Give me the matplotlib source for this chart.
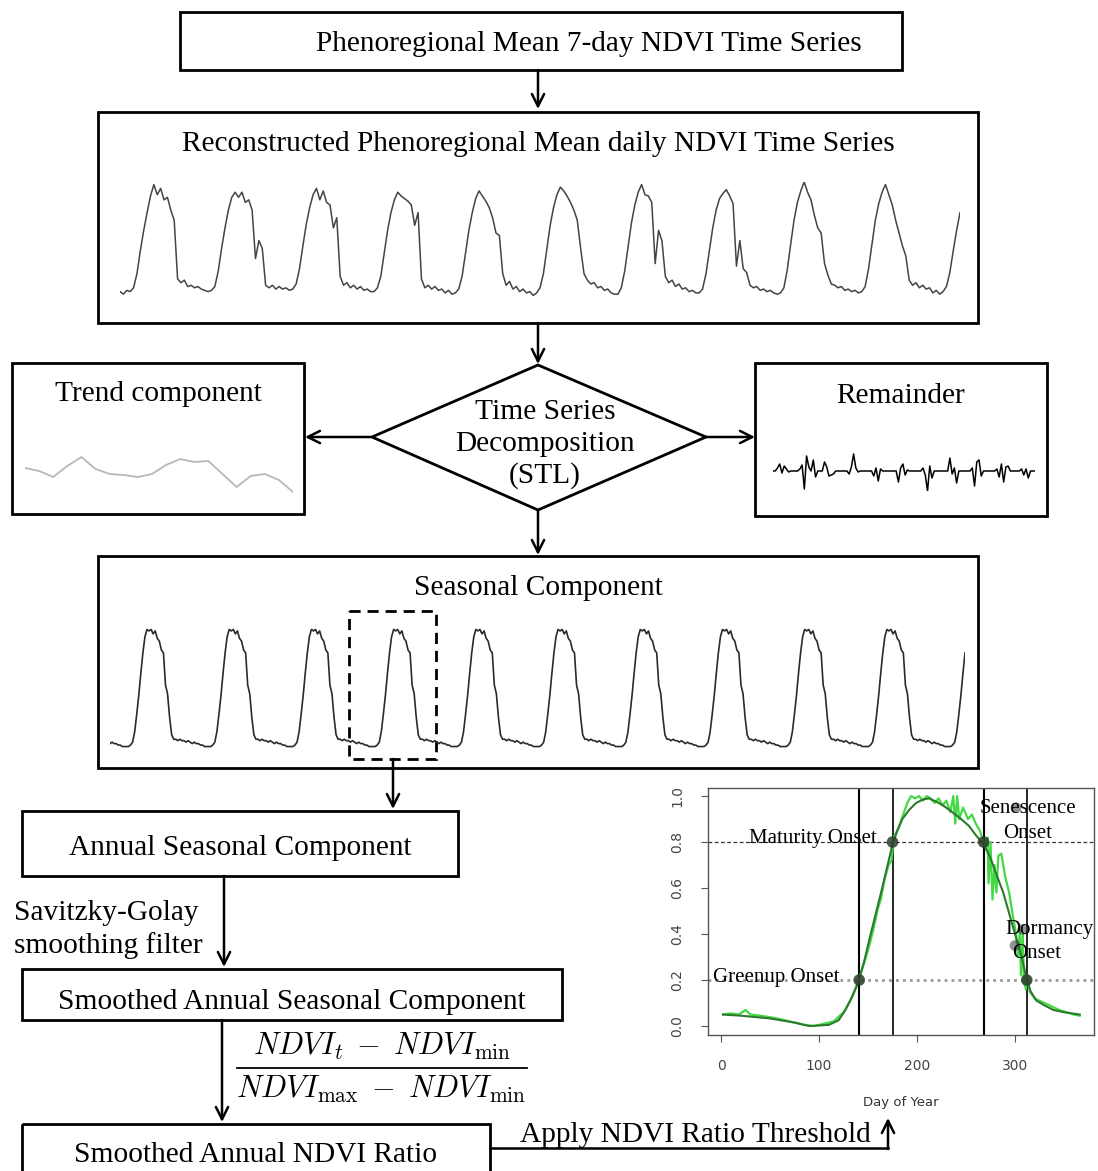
import matplotlib
matplotlib.use("Agg")
import matplotlib.pyplot as plt
from matplotlib.patches import Rectangle, Polygon
import numpy as np

plt.rcParams["mathtext.fontset"] = "cm"

W, H = 1098, 1171
SERIF = "Liberation Serif"

# ---- Reconstructed phenoregional mean NDVI (≈ 24 samples per year) ----
lead_in = [0.10, 0.08, 0.11]
year_01 = [0.10, 0.13, 0.24, 0.42, 0.58, 0.72, 0.85, 0.94, 0.86, 0.91, 0.82, 0.84,
           0.74, 0.66, 0.20, 0.17, 0.19, 0.14, 0.15, 0.13, 0.14, 0.12, 0.11, 0.10]
year_02 = [0.11, 0.14, 0.26, 0.44, 0.60, 0.74, 0.84, 0.88, 0.84, 0.88, 0.80, 0.82,
           0.74, 0.36, 0.50, 0.44, 0.15, 0.13, 0.15, 0.12, 0.14, 0.12, 0.13, 0.11]
year_03 = [0.12, 0.16, 0.28, 0.46, 0.63, 0.76, 0.86, 0.91, 0.82, 0.89, 0.80, 0.78,
           0.60, 0.68, 0.22, 0.15, 0.17, 0.13, 0.15, 0.12, 0.14, 0.11, 0.12, 0.10]
year_04 = [0.10, 0.13, 0.22, 0.40, 0.58, 0.72, 0.82, 0.88, 0.85, 0.83, 0.81, 0.78,
           0.62, 0.72, 0.20, 0.13, 0.15, 0.12, 0.14, 0.11, 0.12, 0.09, 0.11, 0.08]
year_05 = [0.09, 0.12, 0.22, 0.40, 0.58, 0.72, 0.83, 0.89, 0.85, 0.81, 0.76, 0.68,
           0.56, 0.54, 0.24, 0.15, 0.18, 0.12, 0.14, 0.10, 0.12, 0.09, 0.10, 0.07]
year_06 = [0.09, 0.13, 0.24, 0.43, 0.62, 0.76, 0.86, 0.92, 0.89, 0.85, 0.80, 0.74,
           0.66, 0.44, 0.24, 0.19, 0.16, 0.17, 0.13, 0.14, 0.11, 0.12, 0.09, 0.08]
year_07 = [0.08, 0.13, 0.26, 0.45, 0.64, 0.78, 0.88, 0.94, 0.86, 0.85, 0.80, 0.32,
           0.58, 0.50, 0.22, 0.17, 0.19, 0.14, 0.16, 0.12, 0.13, 0.10, 0.11, 0.09]
year_08 = [0.09, 0.12, 0.24, 0.42, 0.60, 0.74, 0.83, 0.87, 0.90, 0.85, 0.79, 0.30,
           0.50, 0.28, 0.25, 0.15, 0.13, 0.14, 0.11, 0.12, 0.10, 0.11, 0.09, 0.08]
year_09 = [0.09, 0.13, 0.27, 0.47, 0.66, 0.80, 0.89, 0.96, 0.88, 0.82, 0.70, 0.60,
           0.56, 0.32, 0.23, 0.16, 0.15, 0.13, 0.14, 0.11, 0.12, 0.10, 0.11, 0.09]
year_10 = [0.10, 0.14, 0.28, 0.47, 0.66, 0.79, 0.88, 0.94, 0.86, 0.78, 0.66, 0.56,
           0.46, 0.38, 0.19, 0.15, 0.17, 0.13, 0.15, 0.12, 0.13, 0.09, 0.11, 0.08]
lead_out = [0.10, 0.14, 0.25, 0.42, 0.58, 0.72]

# ---- STL components ----
trend_values = [0.32, 0.29, 0.23, 0.34, 0.43, 0.31, 0.26, 0.25, 0.23, 0.26,
                0.35, 0.41, 0.38, 0.39, 0.26, 0.13, 0.24, 0.26, 0.20, 0.08]

remainder_values = [
    0.00, 0.00, 0.15, 0.35, -0.10, 0.25, 0.10, -0.05, 0.00, 0.00, 0.00,
    0.00, 0.10, 0.30, -0.90, 0.75, 0.20, 0.00, 0.55, -0.30, 0.00, 0.00,
    0.00, 0.45, 0.20, -0.25, -0.20, -0.15, 0.00, 0.00, 0.00, 0.00, 0.00,
    0.00, -0.15, 0.20, 0.85, 0.15, -0.05, 0.00, 0.00, 0.00, 0.00, 0.00,
    0.00, -0.25, 0.15, -0.50, 0.10, 0.00, 0.00, 0.00, 0.00, 0.00, 0.00,
    0.00, -0.55, 0.15, 0.35, -0.20, 0.05, 0.00, 0.00, 0.00, 0.00, 0.00,
    0.00, 0.15, -0.20, -1.00, 0.25, -0.35, 0.00, 0.00, 0.00, 0.00, 0.00,
    0.00, 0.00, 0.65, -0.15, 0.15, -0.60, 0.00, 0.00, 0.00, 0.00, 0.00,
    0.00, 0.15, -0.75, 0.45, 0.55, -0.25, 0.00, 0.00, 0.00, 0.00, 0.00,
    0.00, 0.10, -0.30, 0.35, -0.55, 0.20, 0.25, 0.00, 0.00, 0.00, 0.00,
    0.00, 0.10, -0.20, 0.10, -0.35, 0.00, 0.00, 0.00]

# one annual cycle of the seasonal component (40 samples, trough to trough)
seasonal_profile = [0.10, 0.11, 0.13, 0.20, 0.32, 0.45, 0.60, 0.74, 0.85, 0.90,
                    0.89, 0.90, 0.87, 0.89, 0.84, 0.82, 0.76, 0.74, 0.52, 0.46,
                    0.30, 0.18, 0.15, 0.15, 0.14, 0.15, 0.14, 0.14, 0.13, 0.14,
                    0.13, 0.12, 0.13, 0.12, 0.12, 0.11, 0.11, 0.10, 0.10, 0.10]
seasonal_cycles = 10
seasonal_start, seasonal_end = 31, 8

# ---- Annual NDVI ratio with phenology thresholds ----
raw_doy = [2, 10, 18, 25, 30, 40, 55, 70, 85, 95, 105, 115, 125, 132, 138, 142, 148,
           152, 156, 160, 163, 167, 171, 174, 176, 181, 186, 190, 194, 198, 202, 206,
           210, 214, 218, 222, 226, 230, 234, 237, 239, 241, 243, 247, 252, 256, 260,
           264, 268, 270, 272, 273, 275, 277, 279, 281, 283, 286, 290, 294, 297, 299,
           301, 303, 305, 306, 308, 309, 311, 313, 315, 320, 330, 345, 360, 366]
raw_ratio = [0.05, 0.055, 0.05, 0.07, 0.05, 0.045, 0.035, 0.02, 0.005, 0.0, 0.01, 0.02,
             0.06, 0.11, 0.17, 0.22, 0.30, 0.36, 0.43, 0.51, 0.55, 0.64, 0.70, 0.72,
             0.82, 0.86, 0.92, 0.97, 1.0, 0.99, 1.0, 0.98, 1.0, 0.99, 0.97, 0.99, 0.96,
             0.98, 0.93, 1.0, 0.88, 1.0, 0.90, 0.95, 0.90, 0.92, 0.88, 0.85, 0.80, 0.78,
             0.82, 0.62, 0.80, 0.55, 0.70, 0.58, 0.74, 0.75, 0.65, 0.58, 0.50, 0.45,
             0.40, 0.30, 0.42, 0.22, 0.40, 0.20, 0.16, 0.22, 0.15, 0.12, 0.10, 0.07,
             0.05, 0.045]
smooth_doy = [2, 20, 50, 75, 90, 110, 120, 127, 134, 140, 146, 151, 158, 165, 170, 175,
              180, 185, 192, 199, 206, 212, 220, 228, 236, 245, 253, 260, 268, 275,
              281, 288, 294, 300, 305, 309, 312, 316, 322, 330, 339, 350, 366]
smooth_ratio = [0.05, 0.045, 0.033, 0.015, 0.0, 0.005, 0.025, 0.07, 0.13, 0.19, 0.28,
                0.37, 0.49, 0.61, 0.70, 0.79, 0.85, 0.90, 0.94, 0.97, 0.985, 0.99,
                0.975, 0.955, 0.93, 0.90, 0.87, 0.83, 0.79, 0.73, 0.66, 0.58, 0.49,
                0.40, 0.33, 0.26, 0.20, 0.15, 0.11, 0.09, 0.07, 0.06, 0.05]
phase_doy = [141, 175, 268, 312]
phase_ratio = [0.20, 0.80, 0.80, 0.20]
extra_doy = [301, 308, 300]
extra_ratio = [0.95, 0.42, 0.35]
thresholds = [0.8, 0.2]
x_ticks = [0, 100, 200, 300]
y_ticks = [0.0, 0.2, 0.4, 0.6, 0.8, 1.0]

# ------------------------------------------------------------------------
fig = plt.figure(figsize=(W / 100, H / 100), dpi=100)
canvas = fig.add_axes([0, 0, 1, 1])
canvas.set_xlim(0, W)
canvas.set_ylim(H, 0)
canvas.axis("off")


def px_axes(x0, y0, x1, y1):
    return fig.add_axes([x0 / W, 1 - y1 / H, (x1 - x0) / W, (y1 - y0) / H])


def box(x0, y0, x1, y1, lw=2.0):
    canvas.add_patch(Rectangle((x0, y0), x1 - x0, y1 - y0, fill=False,
                               ec="black", lw=lw, zorder=2))


def label(x, y, s, size=21.2, ha="center"):
    canvas.text(x, y + 3, s, family=SERIF, fontsize=size, ha=ha, va="center",
                color="black", zorder=3)


def arrow(x0, y0, x1, y1):
    canvas.annotate("", xy=(x1, y1), xytext=(x0, y0),
                    arrowprops=dict(arrowstyle="->", lw=1.8, color="black",
                                    mutation_scale=22, shrinkA=0, shrinkB=0))


def sparkline(ax, y, color, lw, ylim):
    ax.plot(np.arange(len(y)), y, color=color, lw=lw)
    ax.set_xlim(0, len(y) - 1)
    ax.set_ylim(*ylim)
    ax.axis("off")
    ax.patch.set_alpha(0)


# boxes and captions
box(180, 12, 902, 70)
label(589, 41, "Phenoregional Mean 7-day NDVI Time Series")
arrow(538, 70, 538, 109)

box(98, 112, 978, 323)
label(538, 141, "Reconstructed Phenoregional Mean daily NDVI Time Series")
arrow(538, 323, 538, 364)

canvas.add_patch(Polygon([(538, 365), (706, 437), (538, 510), (372, 437)],
                         closed=True, fill=False, ec="black", lw=2.0))
label(545, 409, "Time Series")
label(545, 441, "Decomposition")
label(545, 473, "(STL)")
arrow(372, 437, 305, 437)
arrow(706, 437, 755, 437)

box(12, 363, 304, 514)
label(158, 391, "Trend component")
box(755, 363, 1047, 516)
label(901, 393, "Remainder")

arrow(538, 510, 538, 555)
box(98, 556, 978, 768)
label(538, 585, "Seasonal Component")
canvas.add_patch(Rectangle((349, 611), 87, 148, fill=False, ec="black",
                           lw=2.0, ls=(0, (4, 2.5)), zorder=4))
arrow(393, 759, 393, 809)

box(22, 811, 458, 876)
label(240, 845, "Annual Seasonal Component")
arrow(224, 876, 224, 967)
label(14, 910, "Savitzky-Golay", ha="left")
label(14, 943, "smoothing filter", ha="left")

box(22, 969, 562, 1020)
label(292, 999, "Smoothed Annual Seasonal Component")
arrow(222, 1020, 222, 1122)

# NDVI ratio formula
canvas.text(382, 1046, r"$NDVI_t\;-\;NDVI_{\mathrm{min}}$", fontsize=22,
            ha="center", va="center", color="black")
canvas.plot([237, 527], [1068, 1068], color="black", lw=1.3)
canvas.text(381, 1089, r"$NDVI_{\mathrm{max}}\;-\;NDVI_{\mathrm{min}}$", fontsize=22,
            ha="center", va="center", color="black")

box(22, 1124, 490, 1190)
label(256, 1152, "Smoothed Annual NDVI Ratio")
canvas.plot([490, 888], [1148, 1148], color="black", lw=1.8)
arrow(888, 1149, 888, 1118)
label(695, 1132, "Apply NDVI Ratio Threshold")

# time-series panels
reconstructed = (lead_in + year_01 + year_02 + year_03 + year_04 + year_05 +
                 year_06 + year_07 + year_08 + year_09 + year_10 + lead_out)
sparkline(px_axes(120, 182, 960, 298), reconstructed, "#444444", 1.1, (0.05, 0.96))

sparkline(px_axes(25, 440, 293, 500), trend_values, "#b8b8b8", 1.3, (0.0, 0.6))

sparkline(px_axes(773, 451, 1035, 491), remainder_values, "black", 1.1, (-1.0, 1.0))

seasonal = (seasonal_profile[seasonal_start:] + seasonal_profile * seasonal_cycles +
            seasonal_profile[:seasonal_end])
sparkline(px_axes(110, 628, 965, 748), seasonal, "#2a2a2a", 1.2, (0.09, 0.91))

# phenology panel
ph = px_axes(708, 788, 1094, 1035)
ph.set_xlim(-13.3, 380.6)
ph.set_ylim(-0.039, 1.035)
for v in phase_doy:
    ph.axvline(v, color="black", lw=1.2 if v in (175, 312) else 1.5, zorder=1)
ph.axhline(thresholds[0], color="#333333", lw=0.9, ls=(0, (3, 2)), zorder=1)
ph.axhline(thresholds[1], color="#9a9a9a", lw=2.0, ls=(0, (1, 1.5)), zorder=1)
ph.plot(raw_doy, raw_ratio, color="#45d845", lw=1.6, zorder=2)
ph.plot(smooth_doy, smooth_ratio, color="#2c7a30", lw=1.5, zorder=3)
ph.scatter(phase_doy, phase_ratio, s=70, color="#2b3b2b", alpha=0.85, zorder=4,
           edgecolors="none")
ph.scatter(extra_doy, extra_ratio, s=60, color="#3a3a3a", alpha=0.55, zorder=4,
           edgecolors="none")
lab = dict(family=SERIF, fontsize=15, color="black", va="center", zorder=5,
           clip_on=False)
ph.text(-8, 0.213, "Greenup Onset", ha="left", **lab)
ph.text(94, 0.817, "Maturity Onset", ha="center", **lab)
ph.text(264, 0.948, "Senescence", ha="left", **lab)
ph.text(313, 0.839, "Onset", ha="center", **lab)
ph.text(290, 0.42, "Dormancy", ha="left", **lab)
ph.text(322, 0.317, "Onset", ha="center", **lab)
ph.set_xticks(x_ticks)
ph.set_yticks(y_ticks)
ph.set_yticklabels([f"{v:.1f}" for v in y_ticks], rotation=90, va="center")
ph.tick_params(colors="#555555", labelcolor="#444444", labelsize=10,
               length=5, width=0.8, pad=12)
for sp in ph.spines.values():
    sp.set_color("#555555")
    sp.set_linewidth(1.0)
ph.set_xlabel("Day of Year", fontsize=9.5, color="#333333", labelpad=17)
ph.patch.set_alpha(0)

fig.savefig("out.png", dpi=100)
